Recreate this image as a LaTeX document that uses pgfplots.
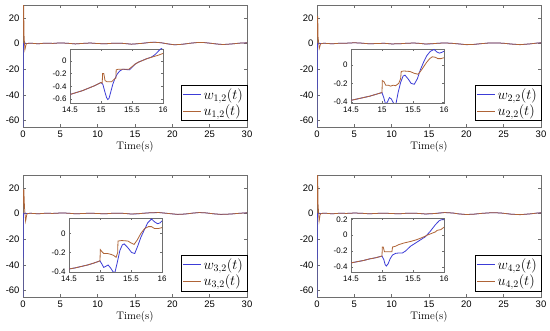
\documentclass[border=0pt]{standalone}
\usepackage{fontspec}
\usepackage{pgfplots}
\pgfplotsset{compat=1.18}
\newfontfamily\hel{Liberation Sans}
\definecolor{wblue}{RGB}{60,60,215}
\definecolor{ubrown}{RGB}{175,100,55}
\definecolor{frame}{RGB}{110,110,110}
\pgfplotsset{
  mainax/.style={scale only axis, anchor=south west, width=224bp, height=122bp,
    xmin=0, xmax=30, ymin=-65, ymax=30,
    xtick={0,5,10,15,20,25,30}, xticklabels={0,5,10,15,20,25,30},
    ytick={-60,-40,-20,0,20}, yticklabels={-60,-40,-20,0,20},
    tick align=inside, major tick length=3bp,
    axis line style={frame}, tick style={frame, line width=0.4pt},
    ticklabel style={font=\hel\fontsize{9.5}{11}\selectfont},
    xlabel={Time(s)}, xlabel style={font=\fontsize{11}{13}\selectfont, yshift=3bp},
    legend style={at={(rel axis cs:1,0.05)}, anchor=south east, draw=black, line width=0.4pt,
      font=\fontsize{14}{16}\selectfont, inner xsep=2bp, inner ysep=1.5bp, row sep=0bp,
      cells={anchor=west}},
    legend image code/.code={\draw[#1, line width=0.8bp] (0bp,0bp) -- (18bp,0bp);},
    every axis plot/.append style={line width=0.75bp},
  },
  inax/.style={scale only axis, anchor=south west, width=93bp, height=54bp,
    xmin=14.5, xmax=16,
    xtick={14.5,15,15.5,16}, xticklabels={14.5,15,15.5,16},
    tick align=inside, major tick length=2bp,
    axis background/.style={fill=white},
    axis line style={frame}, tick style={frame, line width=0.4pt},
    ticklabel style={font=\hel\fontsize{8}{9}\selectfont},
    every axis plot/.append style={line width=0.8bp},
  },
}
\begin{document}
\begin{tikzpicture}
\useasboundingbox (0,0) rectangle (550bp,331bp);
% ---------- Panel 1 ----------
\begin{axis}[mainax, at={(23bp,204bp)}]
\addplot[wblue] coordinates {(0,-65) (0.03,-10) (0.06,0) (0.2,0.5) (0.5,0) (1,0.3) (2,-0.2) (3,0.3) (4,0.1) (5,0.5) (6,0.2) (7,-0.3) (8,0.1) (9,0.4) (10,0) (11,-0.2) (12,0.2) (13,0.3) (14,-0.2) (14.5,-0.5) (15,-0.35) (15.5,-0.05) (16,0.2) (17,0.9) (17.7,1.0) (18.5,0.6) (19.5,-0.4) (20.3,-1.0) (21.3,-0.6) (22.5,0.3) (23.5,0.9) (24.2,0.8) (25,0.3) (26,-0.4) (26.8,-0.8) (28,-0.3) (29,0.3) (30,0.6)};
\addplot[ubrown] coordinates {(0,0) (0.04,31) (0.1,31) (0.13,8) (0.25,-5) (0.4,-1) (0.5,0) (1,0.3) (2,-0.2) (3,0.3) (4,0.1) (5,0.5) (6,0.2) (7,-0.3) (8,0.1) (9,0.4) (10,0) (11,-0.2) (12,0.2) (13,0.3) (14,-0.2) (14.5,-0.5) (15,-0.3) (15.5,-0.05) (16,0.15) (17,0.85) (17.7,0.95) (18.5,0.6) (19.5,-0.35) (20.3,-0.95) (21.3,-0.6) (22.5,0.3) (23.5,0.85) (24.2,0.75) (25,0.3) (26,-0.4) (26.8,-0.75) (28,-0.3) (29,0.3) (30,0.55)};
\legend{$w_{1,2}(t)$,$u_{1,2}(t)$}
\end{axis}
\begin{axis}[inax, at={(70bp,228bp)}, ymin=-0.665, ymax=0.19,
  ytick={-0.6,-0.4,-0.2,0}, yticklabels={-0.6,-0.4,-0.2,0}]
\addplot[wblue] coordinates {(14.5,-0.53) (14.6,-0.50) (14.7,-0.47) (14.8,-0.43) (14.9,-0.39) (15.0,-0.34) (15.03,-0.37) (15.06,-0.48) (15.09,-0.58) (15.11,-0.61) (15.13,-0.59) (15.16,-0.48) (15.19,-0.37) (15.22,-0.29) (15.26,-0.21) (15.30,-0.16) (15.35,-0.13) (15.40,-0.135) (15.46,-0.14) (15.50,-0.10) (15.55,-0.05) (15.60,-0.02) (15.65,0.0) (15.72,0.03) (15.81,0.06) (15.87,0.10) (15.94,0.17) (16.0,0.22)};
\addplot[ubrown] coordinates {(14.5,-0.53) (14.6,-0.50) (14.7,-0.47) (14.8,-0.43) (14.9,-0.39) (15.0,-0.34) (15.02,-0.35) (15.025,-0.20) (15.045,-0.20) (15.065,-0.31) (15.10,-0.33) (15.17,-0.33) (15.20,-0.30) (15.24,-0.27) (15.245,-0.14) (15.28,-0.13) (15.45,-0.13) (15.50,-0.09) (15.55,-0.05) (15.60,-0.02) (15.65,0.0) (15.75,0.04) (15.85,0.07) (15.92,0.09) (16.0,0.12)};
\end{axis}
% ---------- Panel 2 ----------
\begin{axis}[mainax, at={(317bp,204bp)}]
\addplot[wblue] coordinates {(0,-65) (0.03,-10) (0.06,0) (0.2,0.4) (0.5,0) (1,0.2) (2,-0.2) (3,0.2) (4,0.3) (5,0.6) (6,0.3) (7,-0.2) (8,0) (9,0.2) (10,-0.3) (11,-0.2) (12,0.2) (13,0.4) (14,0) (14.5,-0.4) (15,-0.3) (15.5,-0.2) (16,0.15) (17,0.5) (18,0.2) (19,-0.3) (20,-0.9) (21,-0.7) (22,-0.1) (23,0.4) (24,0.5) (25,0.2) (26,-0.4) (27.2,-0.9) (28.5,-0.3) (29.5,0.4) (30,0.6)};
\addplot[ubrown] coordinates {(0,0) (0.05,21) (0.1,21) (0.15,5) (0.3,-4) (0.45,-1) (0.55,0) (1,0.2) (2,-0.2) (3,0.2) (4,0.3) (5,0.6) (6,0.3) (7,-0.2) (8,0) (9,0.2) (10,-0.3) (11,-0.2) (12,0.2) (13,0.4) (14,0) (14.5,-0.4) (15,-0.2) (15.5,-0.1) (16,0.1) (17,0.45) (18,0.2) (19,-0.3) (20,-0.85) (21,-0.65) (22,-0.1) (23,0.4) (24,0.5) (25,0.2) (26,-0.4) (27.2,-0.85) (28.5,-0.3) (29.5,0.35) (30,0.55)};
\legend{$w_{2,2}(t)$,$u_{2,2}(t)$}
\end{axis}
\begin{axis}[inax, at={(351bp,228bp)}, ymin=-0.414, ymax=0.175,
  ytick={-0.4,-0.2,0}, yticklabels={-0.4,-0.2,0}]
\addplot[wblue] coordinates {(14.5,-0.385) (14.6,-0.37) (14.7,-0.355) (14.8,-0.34) (14.9,-0.32) (15.0,-0.30) (15.03,-0.36) (15.06,-0.43) (15.09,-0.40) (15.12,-0.355) (15.15,-0.37) (15.19,-0.42) (15.22,-0.44) (15.26,-0.30) (15.30,-0.19) (15.34,-0.12) (15.37,-0.11) (15.42,-0.15) (15.47,-0.20) (15.52,-0.21) (15.57,-0.15) (15.62,-0.05) (15.67,0.03) (15.72,0.10) (15.78,0.15) (15.84,0.17) (15.89,0.14) (15.93,0.13) (15.97,0.14) (16.0,0.15)};
\addplot[ubrown] coordinates {(14.5,-0.385) (14.6,-0.37) (14.7,-0.355) (14.8,-0.34) (14.9,-0.32) (15.0,-0.30) (15.005,-0.17) (15.03,-0.18) (15.06,-0.22) (15.10,-0.22) (15.14,-0.23) (15.18,-0.22) (15.22,-0.225) (15.27,-0.20) (15.30,-0.15) (15.31,-0.07) (15.35,-0.065) (15.45,-0.07) (15.52,-0.09) (15.58,-0.10) (15.62,-0.07) (15.67,-0.02) (15.72,0.03) (15.77,0.07) (15.81,0.09) (15.86,0.085) (15.90,0.07) (15.95,0.07) (16.0,0.08)};
\end{axis}
% ---------- Panel 3 ----------
\begin{axis}[mainax, at={(23bp,34bp)}]
\addplot[wblue] coordinates {(0,-65) (0.03,-10) (0.06,0) (0.2,0.4) (0.5,0) (1,0.2) (2,-0.2) (3,0.2) (4,0.1) (5,0.4) (6,0.3) (7,-0.2) (8,0) (9,0.3) (10,0) (11,-0.2) (12,0.2) (13,0.3) (14,-0.1) (14.5,-0.4) (15,-0.3) (15.5,-0.2) (16,0.2) (17,0.6) (18.2,0.8) (19.2,0.2) (20.7,-0.7) (21.7,-0.4) (22.7,0.3) (23.6,0.8) (24.5,0.5) (25.5,-0.2) (26.5,-0.7) (27.8,-0.4) (29,0.2) (30,0.6)};
\addplot[ubrown] coordinates {(0,0) (0.06,18.5) (0.12,18.5) (0.2,5) (0.35,-6) (0.5,-1) (0.6,0) (1,0.2) (2,-0.2) (3,0.2) (4,0.1) (5,0.4) (6,0.3) (7,-0.2) (8,0) (9,0.3) (10,0) (11,-0.2) (12,0.2) (13,0.3) (14,-0.1) (14.5,-0.4) (15,-0.2) (15.5,-0.1) (16,0.15) (17,0.55) (18.2,0.75) (19.2,0.2) (20.7,-0.65) (21.7,-0.4) (22.7,0.3) (23.6,0.75) (24.5,0.5) (25.5,-0.2) (26.5,-0.65) (27.8,-0.4) (29,0.2) (30,0.55)};
\legend{$w_{3,2}(t)$,$u_{3,2}(t)$}
\end{axis}
\begin{axis}[inax, at={(69bp,59bp)}, ymin=-0.403, ymax=0.16,
  ytick={-0.4,-0.2,0}, yticklabels={-0.4,-0.2,0}]
\addplot[wblue] coordinates {(14.5,-0.372) (14.6,-0.36) (14.7,-0.345) (14.8,-0.33) (14.9,-0.31) (15.0,-0.287) (15.03,-0.32) (15.06,-0.355) (15.09,-0.345) (15.13,-0.33) (15.17,-0.36) (15.21,-0.40) (15.24,-0.41) (15.28,-0.30) (15.32,-0.18) (15.36,-0.12) (15.39,-0.11) (15.45,-0.15) (15.51,-0.20) (15.56,-0.21) (15.61,-0.13) (15.66,-0.04) (15.71,0.03) (15.77,0.11) (15.83,0.15) (15.88,0.12) (15.93,0.10) (15.97,0.11) (16.0,0.13)};
\addplot[ubrown] coordinates {(14.5,-0.372) (14.6,-0.36) (14.7,-0.345) (14.8,-0.33) (14.9,-0.31) (15.0,-0.287) (15.005,-0.17) (15.03,-0.19) (15.06,-0.21) (15.12,-0.21) (15.18,-0.22) (15.22,-0.23) (15.26,-0.25) (15.285,-0.20) (15.29,-0.08) (15.35,-0.075) (15.45,-0.08) (15.50,-0.10) (15.55,-0.115) (15.60,-0.07) (15.66,0.0) (15.72,0.05) (15.78,0.07) (15.83,0.07) (15.88,0.05) (15.94,0.05) (16.0,0.06)};
\end{axis}
% ---------- Panel 4 ----------
\begin{axis}[mainax, at={(317bp,34bp)}]
\addplot[wblue] coordinates {(0,-65) (0.03,-10) (0.06,0) (0.2,0.4) (0.5,0) (1,0.3) (2,-0.2) (3,0.2) (4,0.1) (5,0.4) (6,0.2) (7,-0.2) (8,0.1) (9,0.3) (10,0) (11,-0.2) (12,0.2) (13,0.3) (14,-0.1) (14.5,-0.35) (15,-0.26) (15.5,-0.1) (16,0.2) (17.1,0.8) (18.2,0.4) (19,-0.3) (20,-0.8) (21,-0.5) (22,0.1) (23,0.5) (23.8,0.7) (24.8,0.3) (26,-0.5) (27.2,-0.9) (28.5,-0.3) (29.5,0.4) (30,0.6)};
\addplot[ubrown] coordinates {(0,0) (0.04,31) (0.1,31) (0.14,8) (0.28,-6) (0.42,-1) (0.55,0) (1,0.3) (2,-0.2) (3,0.2) (4,0.1) (5,0.4) (6,0.2) (7,-0.2) (8,0.1) (9,0.3) (10,0) (11,-0.2) (12,0.2) (13,0.3) (14,-0.1) (14.5,-0.35) (15,-0.15) (15.5,-0.07) (16,0.1) (17.1,0.75) (18.2,0.4) (19,-0.3) (20,-0.75) (21,-0.5) (22,0.1) (23,0.5) (23.8,0.65) (24.8,0.3) (26,-0.5) (27.2,-0.85) (28.5,-0.3) (29.5,0.35) (30,0.55)};
\legend{$w_{4,2}(t)$,$u_{4,2}(t)$}
\end{axis}
\begin{axis}[inax, at={(351bp,59bp)}, ymin=-0.465, ymax=0.216,
  ytick={-0.4,-0.2,0,0.2}, yticklabels={-0.4,-0.2,0,0.2}]
\addplot[wblue] coordinates {(14.5,-0.35) (14.6,-0.335) (14.7,-0.32) (14.8,-0.30) (14.9,-0.285) (15.0,-0.264) (15.03,-0.31) (15.05,-0.37) (15.07,-0.39) (15.10,-0.36) (15.13,-0.30) (15.17,-0.25) (15.22,-0.23) (15.27,-0.225) (15.33,-0.225) (15.38,-0.20) (15.46,-0.14) (15.54,-0.10) (15.62,-0.06) (15.70,-0.02) (15.78,0.05) (15.86,0.13) (15.92,0.18) (15.96,0.195) (16.0,0.195)};
\addplot[ubrown] coordinates {(14.5,-0.35) (14.6,-0.335) (14.7,-0.32) (14.8,-0.30) (14.9,-0.285) (15.0,-0.264) (15.005,-0.15) (15.02,-0.15) (15.04,-0.21) (15.10,-0.21) (15.16,-0.21) (15.17,-0.15) (15.22,-0.14) (15.27,-0.12) (15.35,-0.10) (15.46,-0.08) (15.55,-0.06) (15.65,-0.03) (15.73,0.0) (15.81,0.025) (15.86,0.04) (15.89,0.06) (15.95,0.07) (16.0,0.10)};
\end{axis}
\end{tikzpicture}
\end{document}
